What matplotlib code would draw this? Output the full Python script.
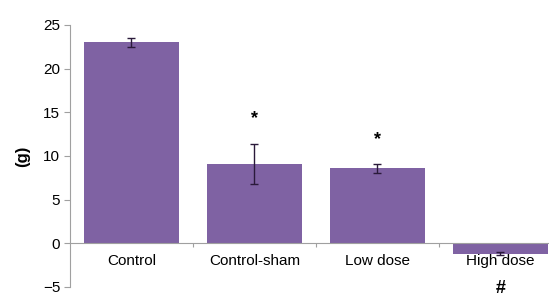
import matplotlib
matplotlib.use("Agg")
import matplotlib.pyplot as plt

plt.rcParams['font.family'] = ['Liberation Sans', 'DejaVu Sans']

groups = ["Control", "Control-sham", "Low dose", "High dose"]
means = [23.0, 9.1, 8.6, -1.2]
errors = [0.5, 2.3, 0.5, 0.2]
marks = ["", "*", "*", "#"]
mark_y = [None, 14.3, 11.9, -5.2]

bar_color = "#7f62a3"
axis_color = "#a0a0a0"

fig = plt.figure(figsize=(5.49, 2.97), dpi=100)
ax = fig.add_axes([0.1275, 0.034, 0.896, 0.882])

x = list(range(len(groups)))
ax.bar(x, means, width=0.77, color=bar_color, zorder=2)
ax.errorbar(x, means, yerr=errors, fmt="none", ecolor="#2a1a3a",
            elinewidth=1.0, capsize=3, capthick=1.0, zorder=3)

for xi, m, my in zip(x, marks, mark_y):
    if m:
        ax.text(xi, my, m, ha="center", va="center", fontsize=13,
                fontweight="bold", color="black", clip_on=False)

ax.set_xlim(-0.5, 3.5)
ax.set_ylim(-5, 25)
ax.set_yticks([-5, 0, 5, 10, 15, 20, 25])
ax.tick_params(axis="y", direction="out", length=4, color=axis_color,
               labelsize=11, pad=3)

# x axis drawn at y = 0 with small ticks between categories
ax.spines["bottom"].set_position(("data", 0))
ax.spines["bottom"].set_color(axis_color)
ax.spines["left"].set_color(axis_color)
ax.spines["top"].set_visible(False)
ax.spines["right"].set_visible(False)
ax.set_xticks([0.5, 1.5, 2.5])
ax.set_xticklabels([])
ax.tick_params(axis="x", direction="out", length=3, color=axis_color)

for xi, g in zip(x, groups):
    ax.text(xi, -1.2, g, ha="center", va="top", fontsize=11, color="black")

ax.set_ylabel("(g)", fontsize=12, fontweight="bold", labelpad=9)

fig.savefig("out.png", dpi=100)
